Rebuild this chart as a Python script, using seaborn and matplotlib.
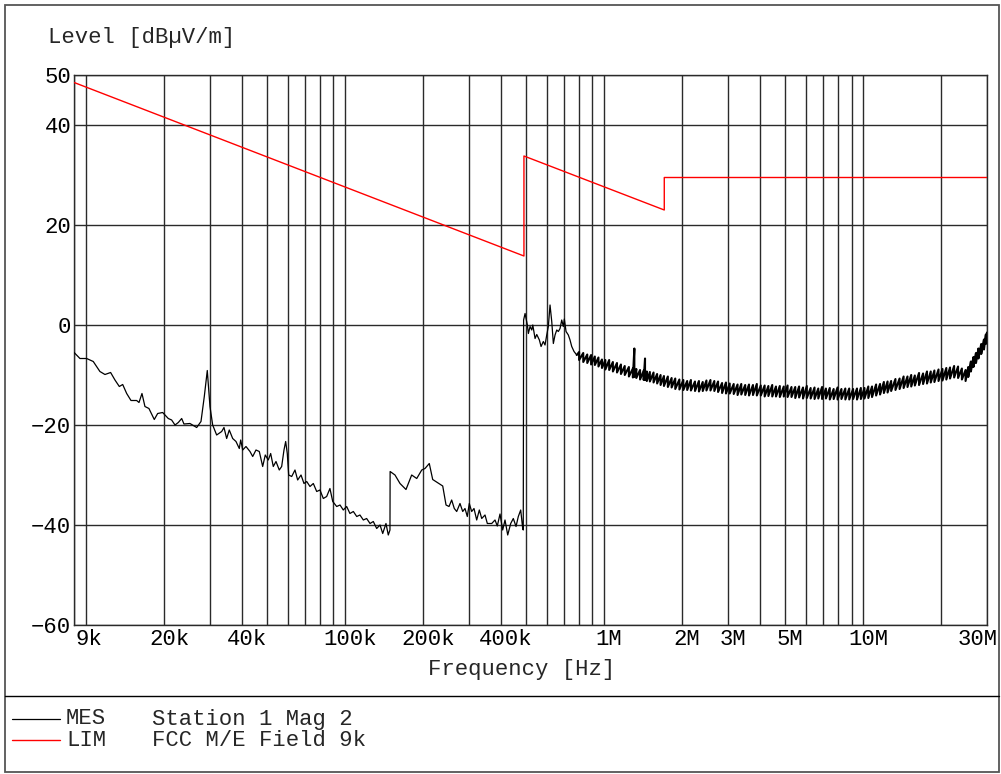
import numpy as np
import matplotlib
matplotlib.use("Agg")
import matplotlib.pyplot as plt
import seaborn as sns
from matplotlib.transforms import ScaledTranslation
from matplotlib.patches import Rectangle
from matplotlib.lines import Line2D
from matplotlib.ticker import NullFormatter

# ---------------- data (frequencies in kHz, levels in dBuV/m) ----------------
mes_lf_freq = [9.0, 9.48, 10.06, 10.67, 11.32, 11.84, 12.45, 12.94, 13.45, 13.86,
               14.36, 14.92, 15.69, 16.02, 16.45, 16.89, 17.50, 18.35, 18.91, 19.77,
               20.78, 21.41, 22.06, 22.72, 23.41, 23.89, 25.20, 26.75, 27.79, 28.62,
               29.39, 30.10, 30.83, 31.94, 33.40, 34.09, 34.91, 35.73, 36.83, 37.93,
               39.06, 39.55, 40.26, 41.45, 42.95, 44.0, 45.3, 46.66, 48.08, 49.2,
               50.53, 51.62, 52.83, 54.12, 55.72, 56.92, 58.1, 58.98, 59.83, 60.58,
               62.22, 64.07, 65.61, 67.6, 69.4, 71.1, 73.2, 75.4, 77.7, 80.0,
               82.4, 84.9, 87.4, 89.6, 92.8, 95.6, 98.4, 101.4, 104.4, 107.6,
               110.9, 114.1, 117.6, 121.1, 124.8, 128.5, 132.4, 136.4, 139.7, 143.8,
               146.8, 149.0, 149.2, 155.8, 162.9, 171.8, 180.7, 189.0, 197.6, 203.4,
               211.3, 217.8, 227.0, 238.1, 245.2, 251.8, 257.8, 263.9, 269.6, 277.6,
               284.4, 290.2, 296.2, 301.5, 308.0, 314.4, 322.0, 329.6, 336.7, 346.7,
               353.9, 368.0, 378.9, 386.7, 396.1, 405.7, 414.1, 424.2, 435.6, 445.8,
               456.7, 466.1, 476.1, 484.6, 487.0, 488.5, 494.9, 499.3, 505.1, 509.6,
               517.4, 525.3, 530.0, 540.9, 549.1, 562.0, 570.5, 582.1, 590.9, 600.0,
               608.5, 617.8, 627.3, 636.3, 645.9, 655.8, 665.1, 675.3, 685.5, 695.3,
               701.5, 712.3, 726.9, 738.0, 749.2, 764.6, 783.3]
mes_lf_level = [-5.5, -6.7, -6.7, -7.3, -9.3, -9.9, -9.5, -11.0, -12.3, -11.9,
                -13.7, -15.1, -15.1, -15.5, -13.7, -16.3, -16.7, -18.9, -17.7, -17.5,
                -18.7, -19.0, -20.0, -19.5, -18.7, -19.8, -19.7, -20.5, -19.3, -14.3,
                -9.1, -16.3, -20.0, -22.0, -21.3, -20.5, -22.7, -21.0, -22.7, -23.3,
                -24.7, -23.0, -25.0, -24.3, -25.3, -26.3, -25.0, -25.3, -28.3, -26.0,
                -27.0, -25.7, -28.3, -27.3, -29.0, -28.3, -25.0, -23.3, -25.7, -30.0,
                -30.3, -29.0, -31.0, -30.0, -31.7, -31.3, -32.3, -31.7, -33.3, -33.0,
                -34.7, -34.3, -32.7, -35.3, -36.3, -36.0, -37.0, -36.3, -37.7, -37.3,
                -38.3, -38.0, -39.0, -38.7, -39.7, -39.3, -40.7, -40.0, -41.7, -39.7,
                -42.0, -41.0, -29.3, -30.0, -31.7, -32.9, -30.0, -30.7, -29.0, -28.7,
                -27.7, -30.9, -31.5, -32.2, -36.0, -36.3, -35.0, -36.7, -37.3, -35.7,
                -37.3, -36.7, -38.3, -35.7, -37.3, -36.7, -39.0, -37.0, -38.7, -38.0,
                -39.7, -39.7, -39.0, -40.2, -37.8, -41.0, -39.0, -42.0, -39.7, -38.7,
                -40.3, -38.3, -37.0, -40.7, -41.0, 1.0, 2.3, 1.3, 0.0, -1.7,
                -0.3, -1.0, 0.0, -2.7, -1.9, -3.0, -4.3, -3.3, -4.0, -2.0,
                -0.3, 4.0, 0.7, -3.7, -2.0, -1.0, -1.3, -0.7, 1.0, -0.3,
                1.2, -1.3, -2.0, -3.0, -4.3, -5.3, -6.0]

# dense (noisy) upper part of the sweep: read upper / lower edge of the trace
mes_hf_freq = [800, 830, 860, 890, 920, 950, 980, 1010, 1045, 1080,
               1120, 1160, 1200, 1245, 1290, 1307, 1330, 1375, 1420, 1437,
               1460, 1500, 1550, 1600, 1650, 1700, 1760, 1820, 1880, 1950,
               2020, 2090, 2160, 2240, 2320, 2400, 2480, 2570, 2660, 2750,
               2850, 2950, 3050, 3160, 3270, 3380, 3500, 3620, 3750, 3880,
               4020, 4160, 4300, 4450, 4600, 4760, 4930, 5100, 5280, 5460,
               5650, 5850, 6050, 6260, 6480, 6700, 6930, 7170, 7420, 7680,
               7950, 8230, 8520, 8820, 9130, 9450, 9780, 10100, 10450, 10800,
               11200, 11600, 12000, 12400, 12800, 13300, 13800, 14300, 14800, 15300,
               15800, 16400, 17000, 17600, 18200, 18800, 19500, 20200, 20900, 21600,
               22400, 23200, 24000, 24800, 25400, 26000, 26600, 27200, 27800, 28500,
               29200, 29700, 30000]
mes_hf_hi = [-5.4, -5.6, -5.9, -6.0, -6.3, -6.5, -6.9, -7.0, -7.0, -7.4,
             -7.6, -7.9, -8.2, -8.4, -8.7, -4.7, -8.8, -9.0, -9.1, -6.7,
             -9.3, -9.4, -9.5, -9.8, -10.0, -10.2, -10.3, -10.6, -10.7, -10.9,
             -11.0, -11.2, -11.0, -11.3, -11.2, -11.4, -11.1, -11.0, -11.2, -11.3,
             -11.6, -11.5, -11.7, -11.8, -11.9, -11.8, -12.0, -11.9, -12.0, -11.8,
             -12.1, -12.1, -12.2, -12.0, -12.3, -12.2, -12.3, -12.1, -12.4, -12.4,
             -12.3, -12.5, -12.2, -12.6, -12.5, -12.7, -12.4, -12.7, -12.6, -12.8,
             -12.5, -12.8, -12.7, -12.7, -12.8, -12.7, -12.6, -12.6, -12.3, -12.3,
             -11.9, -11.8, -11.4, -11.3, -11.2, -10.8, -10.7, -10.3, -10.3, -10.0,
             -10.1, -9.6, -9.7, -9.3, -9.3, -9.1, -8.9, -8.8, -8.6, -8.5,
             -8.2, -8.3, -8.7, -9.0, -8.4, -7.3, -6.4, -5.6, -4.7, -3.8,
             -2.9, -1.9, -1.5]
mes_hf_lo = [-7.0, -7.4, -7.6, -7.9, -8.0, -8.3, -8.6, -8.9, -9.0, -9.3,
             -9.5, -9.8, -10.0, -10.3, -10.5, -10.4, -10.6, -10.9, -11.0, -11.0,
             -11.2, -11.3, -11.5, -11.7, -12.0, -12.2, -12.4, -12.5, -12.8, -12.9,
             -13.0, -13.0, -13.1, -13.2, -13.3, -13.2, -13.1, -13.1, -13.2, -13.4,
             -13.6, -13.7, -13.7, -13.8, -14.0, -13.9, -14.0, -14.1, -14.0, -14.1,
             -14.1, -14.3, -14.2, -14.3, -14.3, -14.4, -14.3, -14.4, -14.4, -14.6,
             -14.5, -14.7, -14.6, -14.7, -14.8, -14.7, -14.8, -14.7, -14.9, -14.8,
             -14.9, -14.8, -14.9, -14.9, -14.8, -14.9, -14.8, -14.7, -14.6, -14.4,
             -14.1, -13.9, -13.6, -13.5, -13.2, -13.0, -12.8, -12.6, -12.4, -12.3,
             -12.1, -12.0, -11.8, -11.7, -11.5, -11.4, -11.2, -11.1, -10.9, -10.7,
             -10.5, -10.6, -10.9, -11.2, -10.4, -9.3, -8.4, -7.6, -6.7, -5.8,
             -4.9, -3.8, -2.5]

# FCC 15.209 limit line
lim_freq = [9, 490, 490, 1705, 1705, 30000]
lim_level = [48.5, 13.8, 33.8, 23.0, 29.5, 29.5]

# axis ticks
xtick_freq = [9, 20, 40, 100, 200, 400, 1000, 2000, 3000, 5000, 10000, 30000]
xtick_labels = ["9k", "20k", "40k", "100k", "200k", "400k", "1M", "2M", "3M", "5M", "10M", "30M"]
xgrid_freq = [10, 20, 30, 40, 50, 60, 70, 80, 90,
              100, 200, 300, 400, 500, 600, 700, 800, 900,
              1000, 2000, 3000, 4000, 5000, 6000, 7000, 8000, 9000,
              10000, 20000, 30000]
ytick_vals = [50, 40, 20, 0, -20, -40, -60]

# ---------------- build trace ----------------
lf_x = np.asarray(mes_lf_freq, float) * 1e3
lf_y = np.asarray(mes_lf_level, float)
hf_x = np.concatenate([lf_x[-1:], np.repeat(np.asarray(mes_hf_freq, float), 2) * 1e3])
hf_y = np.concatenate([lf_y[-1:], np.column_stack([mes_hf_hi, mes_hf_lo]).ravel()])
lim_x = np.asarray(lim_freq, float) * 1e3

# ---------------- style ----------------
sns.set_theme(style="white")
plt.rcParams["font.family"] = ["Liberation Mono", "DejaVu Sans Mono"]
plt.rcParams["axes.unicode_minus"] = True
FS = 16

W, H = 1001, 774
fig = plt.figure(figsize=(W / 100, H / 100), dpi=100)
fig.patch.set_facecolor("white")


def fx(px):
    return px / W


def fy(py):
    return 1 - py / H


ax = fig.add_axes([fx(74.1), fy(625), fx(987) - fx(74.1), fy(75) - fy(625)])
ax.set_facecolor("white")
ax.set_xscale("log")

sns.lineplot(x=lf_x, y=lf_y, ax=ax, color="black", lw=0.9, sort=False,
             estimator=None, legend=False, zorder=3)
sns.lineplot(x=hf_x, y=hf_y, ax=ax, color="black", lw=1.5, sort=False,
             estimator=None, legend=False, zorder=3)
sns.lineplot(x=lim_x, y=lim_level, ax=ax, color="red", lw=1.0, sort=False,
             estimator=None, legend=False, zorder=4)

ax.set_xlim(9e3, 30e6)
ax.set_ylim(-60, 50)
ax.set_xlabel("")
ax.set_ylabel("")

ax.set_xticks(np.asarray(xtick_freq) * 1e3, xtick_labels)
ax.set_xticks(np.asarray(xgrid_freq) * 1e3, minor=True)
ax.xaxis.set_minor_formatter(NullFormatter())
ax.set_yticks(ytick_vals)
ax.set_yticklabels([str(v).replace("-", "\u2212") for v in ytick_vals])

ax.grid(True, which="both", axis="x", color="#2a2a2a", lw=1.0)
ax.grid(True, which="major", axis="y", color="#2a2a2a", lw=1.0)
ax.set_axisbelow(True)
ax.tick_params(axis="both", which="both", length=0, labelsize=FS, colors="black")
ax.tick_params(axis="x", pad=3)
ax.tick_params(axis="y", pad=2)
for s in ax.spines.values():
    s.set_color("#2a2a2a")
    s.set_linewidth(1.0)
    s.set_visible(True)

labels = ax.get_xticklabels()
for i, lab in enumerate(labels):
    dx = 5
    if i == 0:
        lab.set_ha("left")
        dx = 1
    elif i == len(labels) - 1:
        lab.set_ha("right")
        dx = 11
    lab.set_transform(lab.get_transform() + ScaledTranslation(dx / 100, 0, fig.dpi_scale_trans))

# ---------------- texts and frame ----------------
fig.text(fx(48), fy(38), "Level [dB\u00b5V/m]", ha="left", va="center", fontsize=FS)
fig.text(fx(522), fy(670), "Frequency [Hz]", ha="center", va="center", fontsize=FS)

fig.add_artist(Rectangle((fx(5), fy(772)), fx(999) - fx(5), fy(5) - fy(772),
                         fill=False, edgecolor="#555555", lw=1.3,
                         transform=fig.transFigure))
fig.add_artist(Line2D([fx(5), fx(999)], [fy(696), fy(696)], color="black", lw=1.0,
                      transform=fig.transFigure))

fig.add_artist(Line2D([fx(12), fx(60)], [fy(719), fy(719)], color="black", lw=0.9,
                      transform=fig.transFigure))
fig.add_artist(Line2D([fx(12), fx(60)], [fy(740), fy(740)], color="red", lw=1.0,
                      transform=fig.transFigure))
fig.text(fx(66), fy(719), "MES", ha="left", va="center", fontsize=FS)
fig.text(fx(152), fy(719), "Station 1 Mag 2", ha="left", va="center", fontsize=FS)
fig.text(fx(66), fy(740), "LIM", ha="left", va="center", fontsize=FS)
fig.text(fx(152), fy(740), "FCC M/E Field 9k", ha="left", va="center", fontsize=FS)

fig.savefig("out.png", dpi=100, facecolor="white")
